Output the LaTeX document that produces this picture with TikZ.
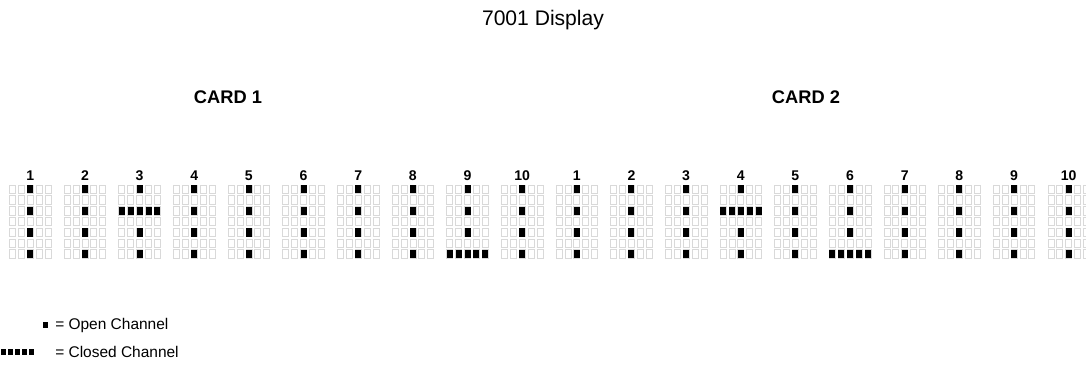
\documentclass[tikz,border=0pt]{standalone}
\usepackage{fontspec}
\setmainfont{Liberation Sans}
\usetikzlibrary{positioning}
\definecolor{CellGray}{HTML}{D9D9D9}
\tikzset{
  emptycell/.style={draw=CellGray,fill=white,line width=0.5pt},
  setcell/.style={fill=black},
  chlabel/.style={font=\fontsize{10}{12}\selectfont\bfseries,inner sep=0pt,anchor=base},
  cardlabel/.style={font=\fontsize{13}{15}\selectfont\bfseries,inner sep=0pt},
  legtext/.style={font=\fontsize{11}{13}\selectfont,inner sep=0pt,anchor=west}
}
\begin{document}
\begin{tikzpicture}[x=0.025cm,y=-0.025cm]
\useasboundingbox (0,0) rectangle (1086,375);
% headings
\node[font=\fontsize{15}{18}\selectfont,inner sep=0pt] (title) at (543,20) {7001 Display};
\node[cardlabel] (card1) at (228,97) {CARD 1};
\node[cardlabel] (card2) at (806,97) {CARD 2};
% channel grids, 10 per card
\foreach \g in {1,...,20}{
  \pgfmathsetmacro{\cx}{30.3+54.65*(\g-1)}
  \pgfmathtruncatemacro{\n}{mod(\g-1,10)+1}
  \node[chlabel] (ch\g) at (\cx,180) {\n};
  \foreach \c in {-2,...,2}
    \foreach \r in {0,...,6}
      \draw[emptycell] ({\cx+8.9*\c-3},{185+10.8*\r}) rectangle ++(6,8.3);
  \foreach \r in {0,2,4,6}
    \fill[setcell] ({\cx-3},{185+10.8*\r}) rectangle ++(6,8.3);
}
% closed channels
\foreach \g/\r in {3/2,9/6,14/2,16/6}{
  \pgfmathsetmacro{\cx}{30.3+54.65*(\g-1)}
  \foreach \c in {-2,...,2}
    \fill[setcell] ({\cx+8.9*\c-3},{185+10.8*\r}) rectangle ++(6,8.3);
}
% legend
\fill[setcell] (43,322) rectangle ++(5,6);
\foreach \i in {0,...,4}
  \fill[setcell] ({1+7*\i},349) rectangle ++(5,6);
\node[legtext] (openlbl) at (55,325) {= Open Channel};
\node[legtext] (closedlbl) at (55,352) {= Closed Channel};
\end{tikzpicture}
\end{document}
